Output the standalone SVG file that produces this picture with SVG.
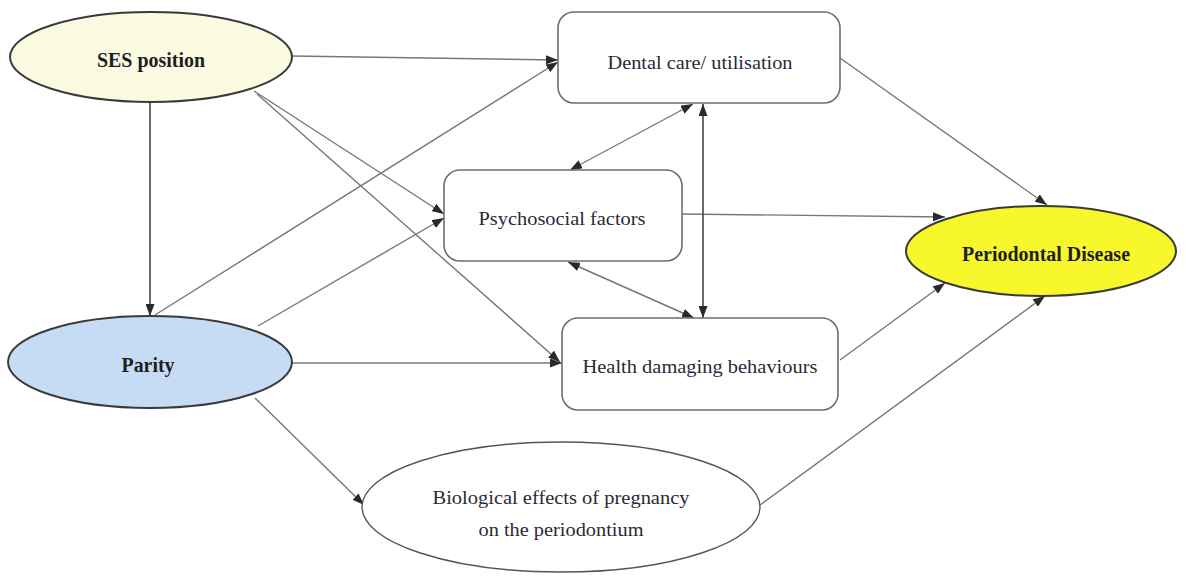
<svg xmlns="http://www.w3.org/2000/svg" width="1186" height="578" viewBox="0 0 1186 578">
  <defs>
    <marker id="arr" viewBox="0 0 12 9" refX="12" refY="4.5" markerWidth="12" markerHeight="9" markerUnits="userSpaceOnUse" orient="auto-start-reverse">
      <path d="M0,0 L12,4.5 L0,9 z" fill="#2a2a2a"/>
    </marker>
  </defs>
  <style>
    .ell { stroke: #3a3a3a; stroke-width: 2; }
    .box { fill: #ffffff; stroke: #6e6e6e; stroke-width: 1.6; }
    .lbl { font-family: "Liberation Serif", "Times New Roman", serif; font-size: 19px; fill: #2a2a38; text-anchor: middle; dominant-baseline: central; }
    .bold { font-weight: bold; font-size: 20px; fill: #1e1e1e; }
    .con line { stroke: #777777; stroke-width: 1.4; fill: none; }
    .con .dark { stroke: #444444; stroke-width: 1.6; }
  </style>
  <rect width="1186" height="578" fill="#ffffff"/>

  <g id="connectors" class="con">
    <line x1="292" y1="56" x2="558" y2="60" marker-end="url(#arr)"/>
    <line class="dark" x1="150" y1="102" x2="150" y2="316" marker-end="url(#arr)"/>
    <line x1="254" y1="91" x2="444" y2="214" marker-end="url(#arr)"/>
    <line x1="257" y1="94" x2="560" y2="362" marker-end="url(#arr)"/>
    <line x1="155" y1="315" x2="558" y2="62" marker-end="url(#arr)"/>
    <line x1="258" y1="326" x2="444" y2="218" marker-end="url(#arr)"/>
    <line x1="292" y1="363" x2="562" y2="363" marker-end="url(#arr)"/>
    <line x1="255" y1="398" x2="364" y2="505" marker-end="url(#arr)"/>
    <line x1="840" y1="58" x2="1047" y2="205" marker-end="url(#arr)"/>
    <line x1="682" y1="214" x2="945" y2="217" marker-end="url(#arr)"/>
    <line x1="840" y1="360" x2="945" y2="283" marker-end="url(#arr)"/>
    <line x1="760" y1="505" x2="1045" y2="296" marker-end="url(#arr)"/>
    <line x1="693" y1="104" x2="570" y2="170" marker-start="url(#arr)" marker-end="url(#arr)"/>
    <line x1="568" y1="262" x2="694" y2="318" marker-start="url(#arr)" marker-end="url(#arr)"/>
    <line class="dark" x1="703" y1="104" x2="703" y2="318" marker-start="url(#arr)" marker-end="url(#arr)"/>
  </g>

  <g id="ses">
    <ellipse class="ell" cx="151" cy="57" rx="141" ry="45" fill="#fbfbe2"/>
    <text class="lbl bold" x="151" y="60" textLength="108" lengthAdjust="spacingAndGlyphs">SES position</text>
  </g>

  <g id="parity">
    <ellipse class="ell" cx="150" cy="362" rx="142" ry="46" fill="#c6dcf5"/>
    <text class="lbl bold" x="148" y="365" textLength="53" lengthAdjust="spacingAndGlyphs">Parity</text>
  </g>

  <g id="dental">
    <rect class="box" x="558" y="12" width="282" height="91" rx="16"/>
    <text class="lbl" x="700" y="62" textLength="185" lengthAdjust="spacingAndGlyphs">Dental care/ utilisation</text>
  </g>

  <g id="psychosocial">
    <rect class="box" x="444" y="170" width="238" height="91" rx="16"/>
    <text class="lbl" x="562" y="218" textLength="167" lengthAdjust="spacingAndGlyphs">Psychosocial factors</text>
  </g>

  <g id="health">
    <rect class="box" x="562" y="318" width="276" height="92" rx="16"/>
    <text class="lbl" x="700" y="366" textLength="235" lengthAdjust="spacingAndGlyphs">Health damaging behaviours</text>
  </g>

  <g id="periodontal">
    <ellipse class="ell" cx="1041" cy="251" rx="135" ry="45" fill="#f7f72c"/>
    <text class="lbl bold" x="1046" y="254" textLength="168" lengthAdjust="spacingAndGlyphs">Periodontal Disease</text>
  </g>

  <g id="biological">
    <ellipse cx="561" cy="507" rx="199" ry="65" fill="#ffffff" stroke="#555555" stroke-width="1.4"/>
    <text class="lbl" x="561" y="497" textLength="257" lengthAdjust="spacingAndGlyphs">Biological effects of pregnancy</text>
    <text class="lbl" x="561" y="529" textLength="165" lengthAdjust="spacingAndGlyphs">on the periodontium</text>
  </g>
</svg>
